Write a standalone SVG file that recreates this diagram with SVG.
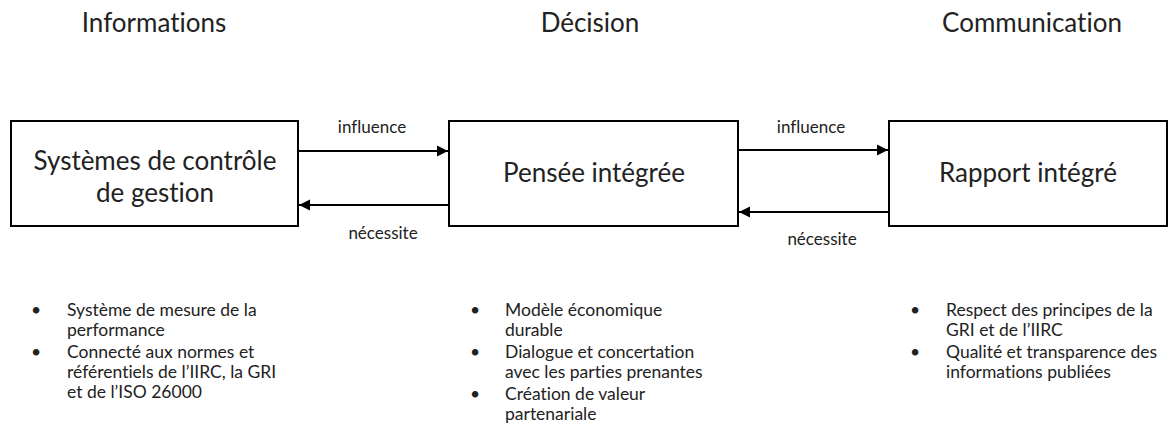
<svg xmlns="http://www.w3.org/2000/svg" width="1170" height="430" viewBox="0 0 1170 430">
<defs>
<marker id="ah" viewBox="0 0 10 10" refX="10" refY="5" markerWidth="11" markerHeight="12" markerUnits="userSpaceOnUse" orient="auto">
<path d="M0,0 L10,5 L0,10 z" fill="#000"/>
</marker>
<style>
text{font-family:Lato,"Open Sans",sans-serif;fill:#222;font-variant-ligatures:none}
.box{fill:#fff;stroke:#000;stroke-width:2}
.head{font-size:26px;text-anchor:middle}
.bt{font-size:26px;text-anchor:middle}
.lbl{font-size:17px;text-anchor:middle}
.li{font-size:17.5px}
.conn{stroke:#000;stroke-width:2;fill:none;marker-end:url(#ah)}
</style>
</defs>
<rect width="1170" height="430" fill="#fff"/>
<g id="headers">
<text class="head" x="154" y="32">Informations</text>
<text class="head" x="590" y="32">Décision</text>
<text class="head" x="1032" y="32">Communication</text>
</g>
<g id="node-controle">
<rect class="box" x="11" y="121" width="287" height="105"/>
<text class="bt" x="155" y="170">Systèmes de contrôle</text>
<text class="bt" x="155" y="202">de gestion</text>
</g>
<g id="node-pensee">
<rect class="box" x="449" y="121" width="289" height="105"/>
<text class="bt" x="594" y="182">Pensée intégrée</text>
</g>
<g id="node-rapport">
<rect class="box" x="889" y="121" width="278" height="105"/>
<text class="bt" x="1028" y="182">Rapport intégré</text>
</g>
<g id="connectors">
<line class="conn" x1="299" y1="151" x2="448" y2="151"/>
<line class="conn" x1="448" y1="205" x2="299" y2="205"/>
<line class="conn" x1="739" y1="150" x2="888" y2="150"/>
<line class="conn" x1="888" y1="212" x2="739" y2="212"/>
<text class="lbl" x="372" y="133">influence</text>
<text class="lbl" x="383" y="239">nécessite</text>
<text class="lbl" x="811" y="133">influence</text>
<text class="lbl" x="822" y="245">nécessite</text>
</g>
<g id="list-informations">
<text class="li" x="31" y="316">•</text>
<text class="li" x="67" y="316">Système de mesure de la</text>
<text class="li" x="67" y="336">performance</text>
<text class="li" x="31" y="358">•</text>
<text class="li" x="67" y="358">Connecté aux normes et</text>
<text class="li" x="67" y="378">référentiels de l’IIRC, la GRI</text>
<text class="li" x="67" y="398">et de l’ISO 26000</text>
</g>
<g id="list-decision">
<text class="li" x="470" y="316">•</text>
<text class="li" x="505" y="316">Modèle économique</text>
<text class="li" x="505" y="336">durable</text>
<text class="li" x="470" y="358">•</text>
<text class="li" x="505" y="358">Dialogue et concertation</text>
<text class="li" x="505" y="378">avec les parties prenantes</text>
<text class="li" x="470" y="400">•</text>
<text class="li" x="505" y="400">Création de valeur</text>
<text class="li" x="505" y="420">partenariale</text>
</g>
<g id="list-communication">
<text class="li" x="910" y="316">•</text>
<text class="li" x="946" y="316">Respect des principes de la</text>
<text class="li" x="946" y="336">GRI et de l’IIRC</text>
<text class="li" x="910" y="358">•</text>
<text class="li" x="946" y="358">Qualité et transparence des</text>
<text class="li" x="946" y="378">informations publiées</text>
</g>
</svg>
